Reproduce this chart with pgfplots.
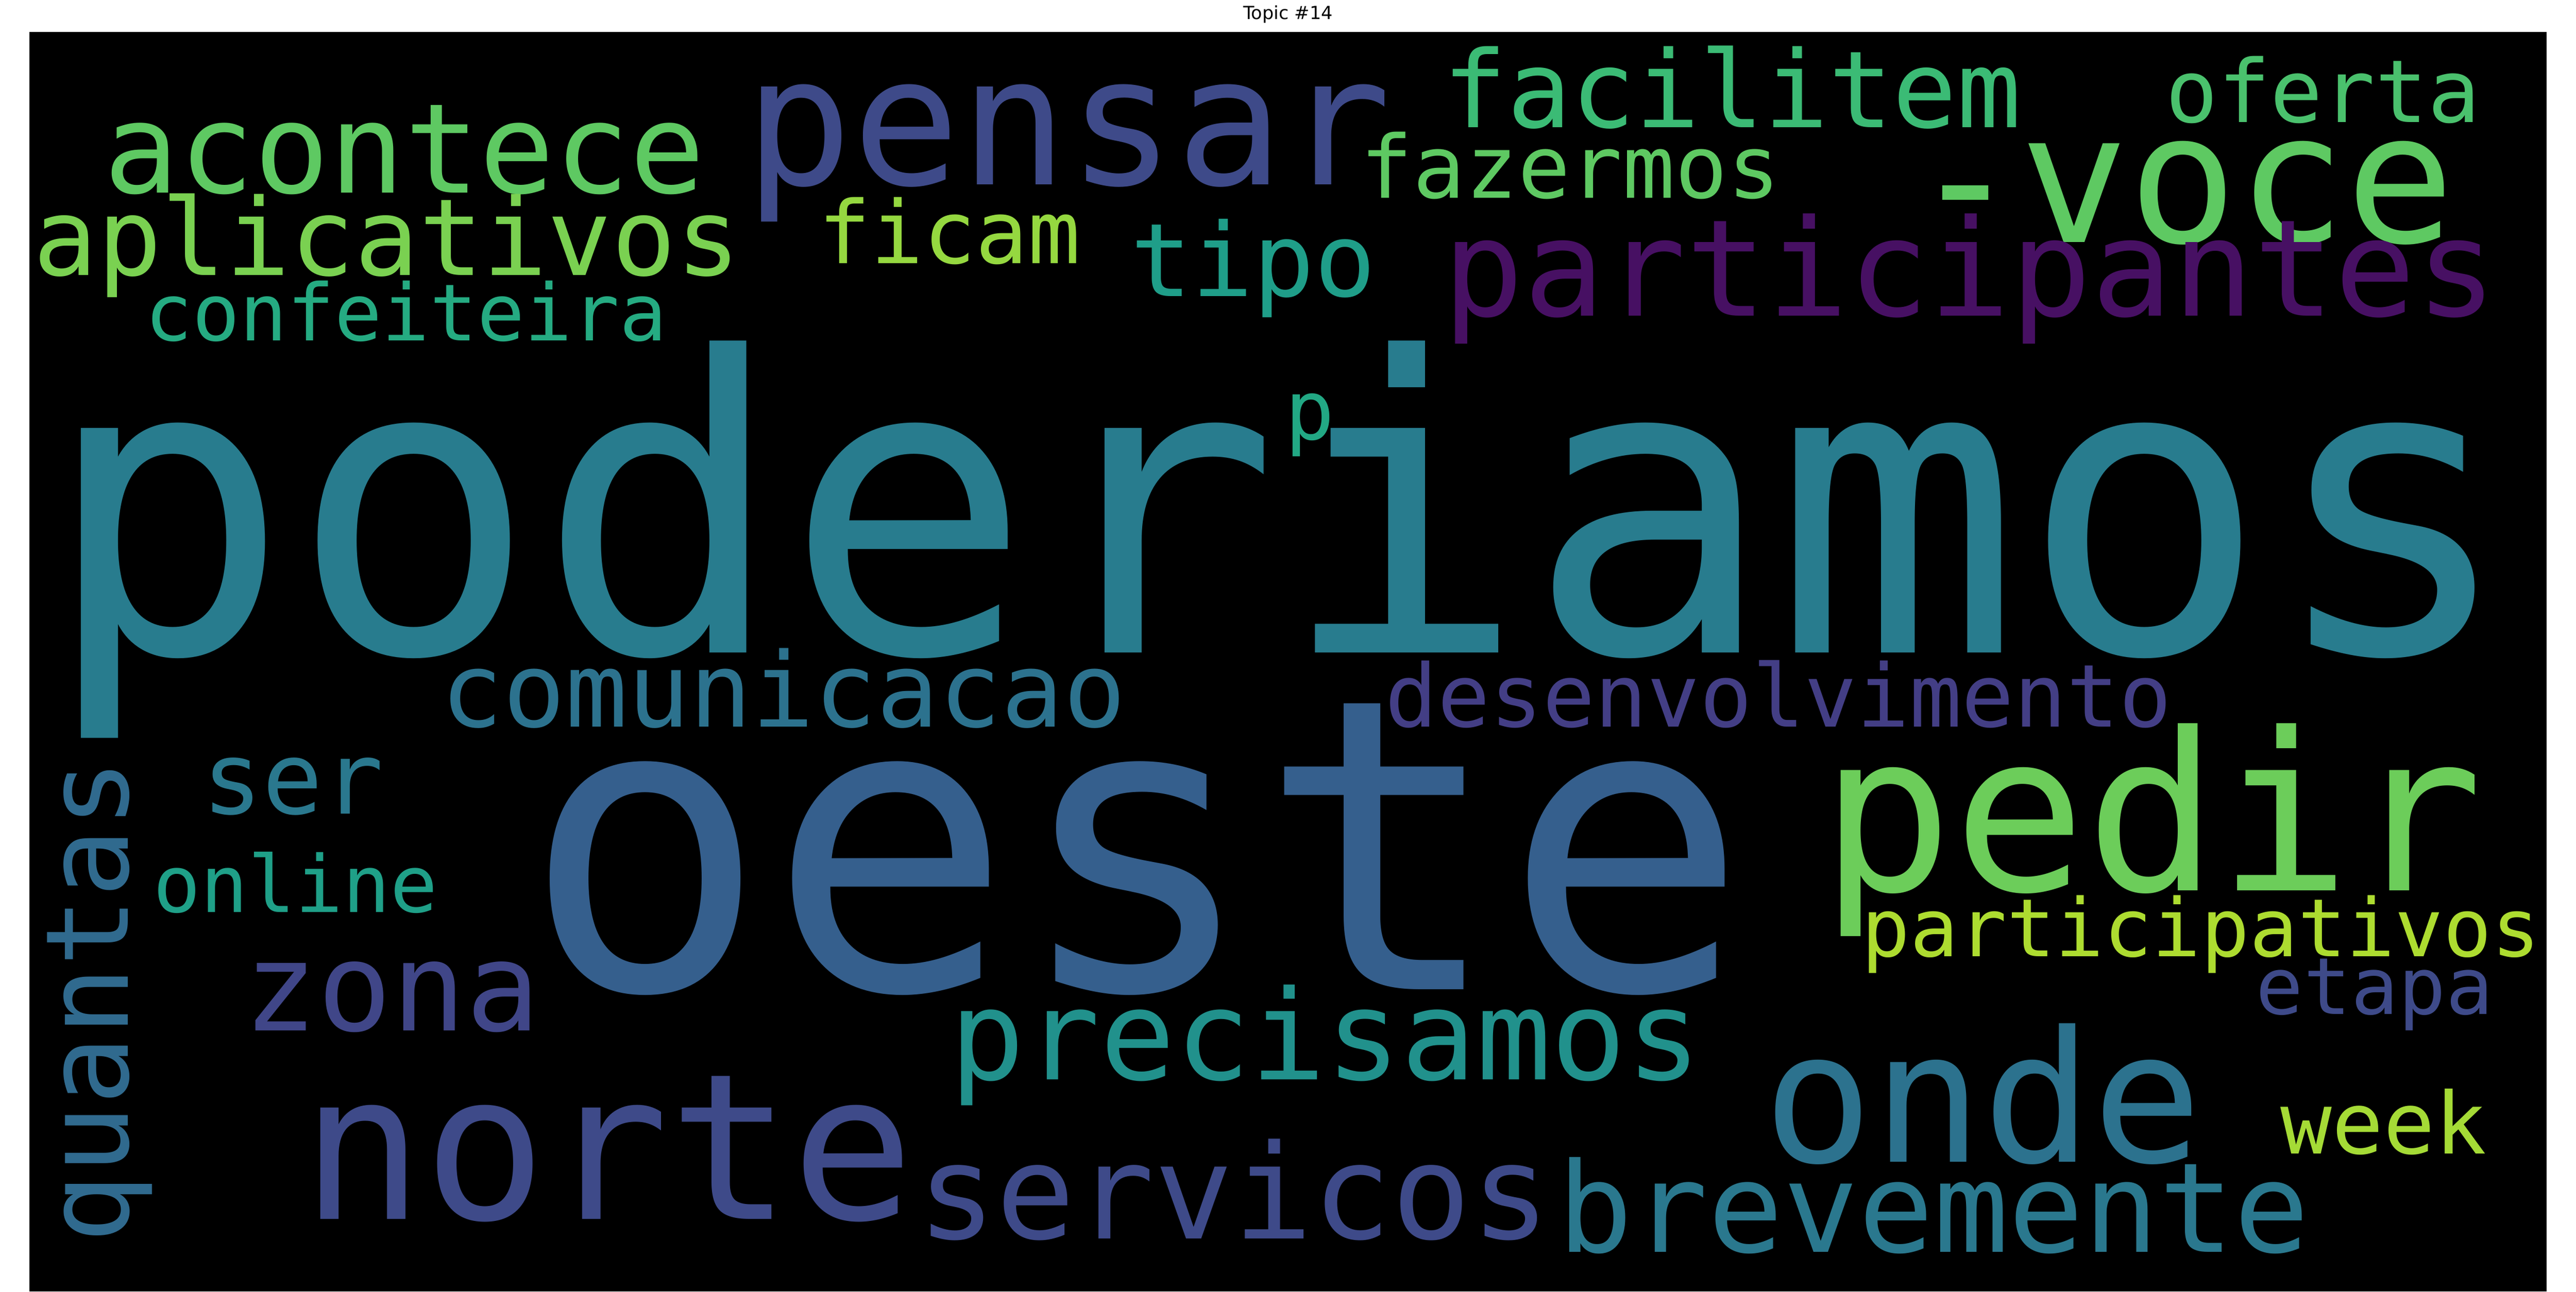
\documentclass[border=0pt]{standalone}
\usepackage{pgfplots}
\pgfplotsset{compat=1.18}
\usepackage{fontspec}
\setmainfont{DejaVu Sans}
\newfontfamily\wcfont{DejaVu Sans Mono}
\newcommand{\wc}[6][0]{\addplot[draw=none, mark=none, point meta=explicit symbolic, nodes near coords, nodes near coords align={center},
  nodes near coords style={anchor=base west, inner sep=0pt, rotate=#1, font=\wcfont\fontsize{#4}{#4}\selectfont, text=#5}] coordinates {(#2,#3) [#6]};}
\begin{document}
\begin{tikzpicture}
\begin{axis}[scale only axis, width=1532pt, height=767pt, xmin=18, xmax=1550, ymin=17, ymax=784, y dir=reverse,
  axis background/.style={fill=black}, hide axis, clip=false,
  title={\fontsize{11}{13}\selectfont Topic \#14}, title style={yshift=-4pt}]
\wc{26}{395}{250}{{rgb,255:red,40;green,124;blue,142}}{poderiamos}
\wc{318}{600}{248}{{rgb,255:red,53;green,95;blue,141}}{oeste}
\wc{1108}{540}{134}{{rgb,255:red,108;green,205;blue,90}}{pedir}
\wc{183}{740}{124}{{rgb,255:red,62;green,74;blue,137}}{norte}
\wc{1073}{705}{111}{{rgb,255:red,44;green,114;blue,142}}{onde}
\wc{558}{752}{80}{{rgb,255:red,62;green,74;blue,137}}{servicos}
\wc{948}{760}{76}{{rgb,255:red,42;green,120;blue,142}}{brevemente}
\wc{578}{655}{76}{{rgb,255:red,33;green,145;blue,140}}{precisamos}
\wc{148}{625}{75}{{rgb,255:red,64;green,70;blue,136}}{zona}
\wc{453}{110}{109}{{rgb,255:red,62;green,74;blue,137}}{pensar}
\wc{1163}{145}{110}{{rgb,255:red,94;green,201;blue,98}}{-voce}
\wc{878}{190}{82}{{rgb,255:red,71;green,16;blue,99}}{participantes}
\wc{63}{115}{76}{{rgb,255:red,94;green,201;blue,98}}{acontece}
\wc{20}{165}{65}{{rgb,255:red,122;green,209;blue,81}}{aplicativos}
\wc{878}{75}{65}{{rgb,255:red,59;green,187;blue,117}}{facilitem}
\wc{1318}{72}{53}{{rgb,255:red,74;green,193;blue,109}}{oferta}
\wc{828}{118}{53}{{rgb,255:red,94;green,201;blue,98}}{fazermos}
\wc{498}{158}{53}{{rgb,255:red,149;green,216;blue,64}}{ficam}
\wc{688}{178}{62}{{rgb,255:red,31;green,158;blue,137}}{tipo}
\wc{88}{205}{48}{{rgb,255:red,37;green,171;blue,130}}{confeiteira}
\wc{782}{265}{50}{{rgb,255:red,34;green,168;blue,132}}{p}
\wc{268}{440}{63}{{rgb,255:red,44;green,114;blue,142}}{comunicacao}
\wc{843}{440}{53}{{rgb,255:red,67;green,62;blue,133}}{desenvolvimento}
\wc{123}{493}{61}{{rgb,255:red,42;green,120;blue,142}}{ser}
\wc[90]{78}{755}{70}{{rgb,255:red,48;green,106;blue,142}}{quantas}
\wc{93}{553}{48}{{rgb,255:red,31;green,160;blue,136}}{online}
\wc{1133}{580}{49}{{rgb,255:red,173;green,220;blue,48}}{participativos}
\wc{1373}{615}{48}{{rgb,255:red,62;green,74;blue,137}}{etapa}
\wc{1388}{700}{52}{{rgb,255:red,165;green,219;blue,54}}{week}
\end{axis}
\useasboundingbox (current axis.south west)++(-18pt,0) rectangle ([xshift=18pt,yshift=17pt]current axis.north east);
\end{tikzpicture}
\end{document}
